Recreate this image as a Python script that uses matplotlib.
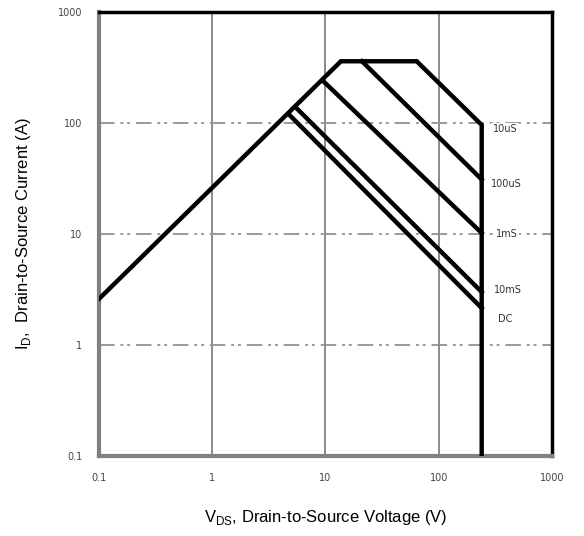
import matplotlib
matplotlib.use('Agg')
import matplotlib.pyplot as plt

# safe operating area data
outline_v = [0.1, 13.7, 64, 240, 240]
outline_i = [2.6, 360, 360, 96, 0.1]

curves = {
    "100uS": ([21, 240], [360, 31]),
    "1mS": ([9.5, 240], [240, 10.2]),
    "10mS": ([5.4, 240], [140, 3.0]),
    "DC": ([4.7, 240], [121, 2.15]),
}

label_names = ["10uS", "100uS", "1mS", "10mS", "DC"]
label_v = [385, 400, 400, 410, 390]
label_i = [88, 28, 10, 3.1, 1.73]

ticks = [0.1, 1, 10, 100, 1000]
tick_labels = ["0.1", "1", "10", "100", "1000"]

plt.rcParams['font.family'] = ['Liberation Sans', 'DejaVu Sans']
plt.rcParams['mathtext.fontset'] = 'custom'
plt.rcParams['mathtext.rm'] = 'Liberation Sans'

fig = plt.figure(figsize=(5.84, 5.36), dpi=100)
ax = fig.add_axes([0.1695, 0.1493, 0.7755, 0.8283])
ax.set_xscale('log')
ax.set_yscale('log')
ax.set_xlim(0.1, 1000)
ax.set_ylim(0.1, 1000)

for t in ticks[1:-1]:
    ax.axvline(t, color='#8a8a8a', lw=1.4, zorder=1)
    ax.axhline(t, color='#9a9a9a', lw=1.4, dashes=(8, 3, 1.5, 2, 1.5, 3), zorder=1)

ax.plot(outline_v, outline_i, color='black', lw=3.2, solid_joinstyle='miter', zorder=3)
for name, (v, i) in curves.items():
    ax.plot(v, i, color='black', lw=3.2, zorder=3)

for name, x, y in zip(label_names, label_v, label_i):
    ax.text(x, y, name, fontsize=7, color='#333333', family='DejaVu Sans',
            ha='center', va='center', zorder=4,
            bbox=dict(facecolor='white', edgecolor='none', pad=1))

ax.set_xticks(ticks)
ax.set_xticklabels(tick_labels)
ax.set_yticks(ticks)
ax.set_yticklabels(tick_labels)
ax.minorticks_off()
ax.tick_params(length=0, labelsize=7, labelcolor='#444444', pad=12)
for lab in ax.get_xticklabels() + ax.get_yticklabels():
    lab.set_family('DejaVu Sans')

ax.spines['left'].set_color('#808080')
ax.spines['bottom'].set_color('#808080')
ax.spines['left'].set_linewidth(3)
ax.spines['bottom'].set_linewidth(3)
ax.spines['top'].set_linewidth(2.5)
ax.spines['right'].set_linewidth(2.5)

ax.set_xlabel(r'V$_\mathregular{DS}$, Drain-to-Source Voltage (V)', fontsize=12, labelpad=18)
ax.set_ylabel(r'I$_\mathregular{D}$,  Drain-to-Source Current (A)', fontsize=12, labelpad=18)

fig.savefig('out.png', dpi=100)
